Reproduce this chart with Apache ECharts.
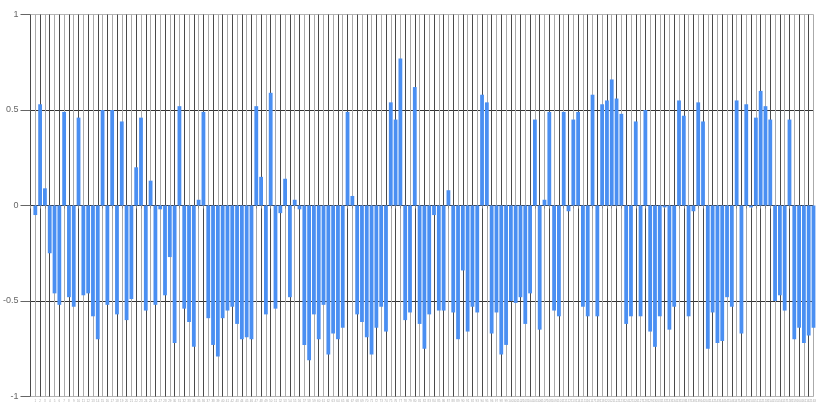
<!DOCTYPE html>
<html>
<head>
<meta charset="utf-8">
<script src="https://cdn.jsdelivr.net/npm/echarts@6/dist/echarts.min.js"></script>
<style>
html,body{margin:0;padding:0;background:#fff;}
#chart{width:819px;height:403px;}
</style>
</head>
<body>
<div id="chart"></div>
<script>
// Bar values, left to right (163 bars)
var values = [
  -0.05, 0.53, 0.09, -0.25, -0.46, -0.52, 0.49, -0.48, -0.53, 0.46,
  -0.47, -0.46, -0.58, -0.70, 0.50, -0.52, 0.50, -0.57, 0.44, -0.60,
  -0.49, 0.20, 0.46, -0.55, 0.13, -0.52, -0.02, -0.47, -0.27, -0.72,
  0.52, -0.54, -0.61, -0.74, 0.03, 0.49, -0.59, -0.73, -0.79, -0.59,
  -0.55, -0.53, -0.62, -0.70, -0.69, -0.70, 0.52, 0.15, -0.57, 0.59,
  -0.54, -0.04, 0.14, -0.48, 0.03, -0.02, -0.73, -0.81, -0.57, -0.70,
  -0.52, -0.78, -0.67, -0.70, -0.64, 0.49, 0.05, -0.57, -0.61, -0.69,
  -0.78, -0.64, -0.53, -0.66, 0.54, 0.45, 0.77, -0.60, -0.56, 0.62,
  -0.62, -0.75, -0.57, -0.05, -0.55, -0.55, 0.08, -0.56, -0.70, -0.34,
  -0.66, -0.53, -0.56, 0.58, 0.54, -0.67, -0.56, -0.78, -0.73, -0.50,
  -0.51, -0.48, -0.62, -0.46, 0.45, -0.65, 0.03, 0.49, -0.55, -0.58,
  0.49, -0.03, 0.45, 0.49, -0.53, -0.58, 0.58, -0.58, 0.53, 0.55,
  0.66, 0.56, 0.48, -0.62, -0.58, 0.44, -0.58, 0.50, -0.66, -0.74,
  -0.58, -0.01, -0.65, -0.53, 0.55, 0.47, -0.58, -0.03, 0.54, 0.44,
  -0.75, -0.56, -0.72, -0.71, -0.48, -0.53, 0.55, -0.67, 0.53, -0.01,
  0.46, 0.60, 0.52, 0.45, -0.50, -0.47, -0.55, 0.45, -0.70, -0.64,
  -0.72, -0.68, -0.64
];
// Category labels (one per bar)
var categories = values.map(function (v, i) { return String(i + 1); });
// Y tick labels
var yTickLabels = ['-1', '-0.5', '0', '0.5', '1'];

// The axis starts one empty slot left of the first bar
var axisCats = [''].concat(categories);
var axisData = [null].concat(values);

var chart = echarts.init(document.getElementById('chart'), null, {renderer: 'canvas'});
chart.setOption({
  animation: false,
  backgroundColor: '#ffffff',
  grid: {left: 29.3, right: 0.8, top: 14.5, bottom: 6.5, containLabel: false},
  xAxis: {
    type: 'category',
    data: axisCats,
    boundaryGap: false,
    axisLine: {show: false},
    axisTick: {show: true, interval: 0, length: 3, lineStyle: {color: '#888'}},
    axisLabel: {show: true, interval: 0, fontSize: 3, color: '#aaa', margin: 3, fontFamily: 'Liberation Sans'},
    splitLine: {show: true, interval: 0, lineStyle: {color: ['#4a4a4a', '#aaaaaa'], width: 1}}
  },
  yAxis: {
    type: 'value',
    min: -1, max: 1, interval: 0.5,
    axisLine: {show: false},
    axisTick: {show: true, length: 10, lineStyle: {color: '#666'}},
    axisLabel: {
      margin: 12, fontSize: 9, color: '#666', fontFamily: 'Liberation Sans',
      formatter: function (v) {
        var idx = Math.round((v + 1) / 0.5);
        return yTickLabels[idx];
      }
    },
    splitLine: {show: true, lineStyle: {color: ['#b5b5b5', '#333333', '#333333', '#333333', '#b5b5b5'], width: 1}}
  },
  series: [{
    type: 'bar',
    data: axisData,
    barWidth: 3.8,
    clip: false,
    itemStyle: {color: '#4a8ff2'}
  }]
});
</script>
</body>
</html>
